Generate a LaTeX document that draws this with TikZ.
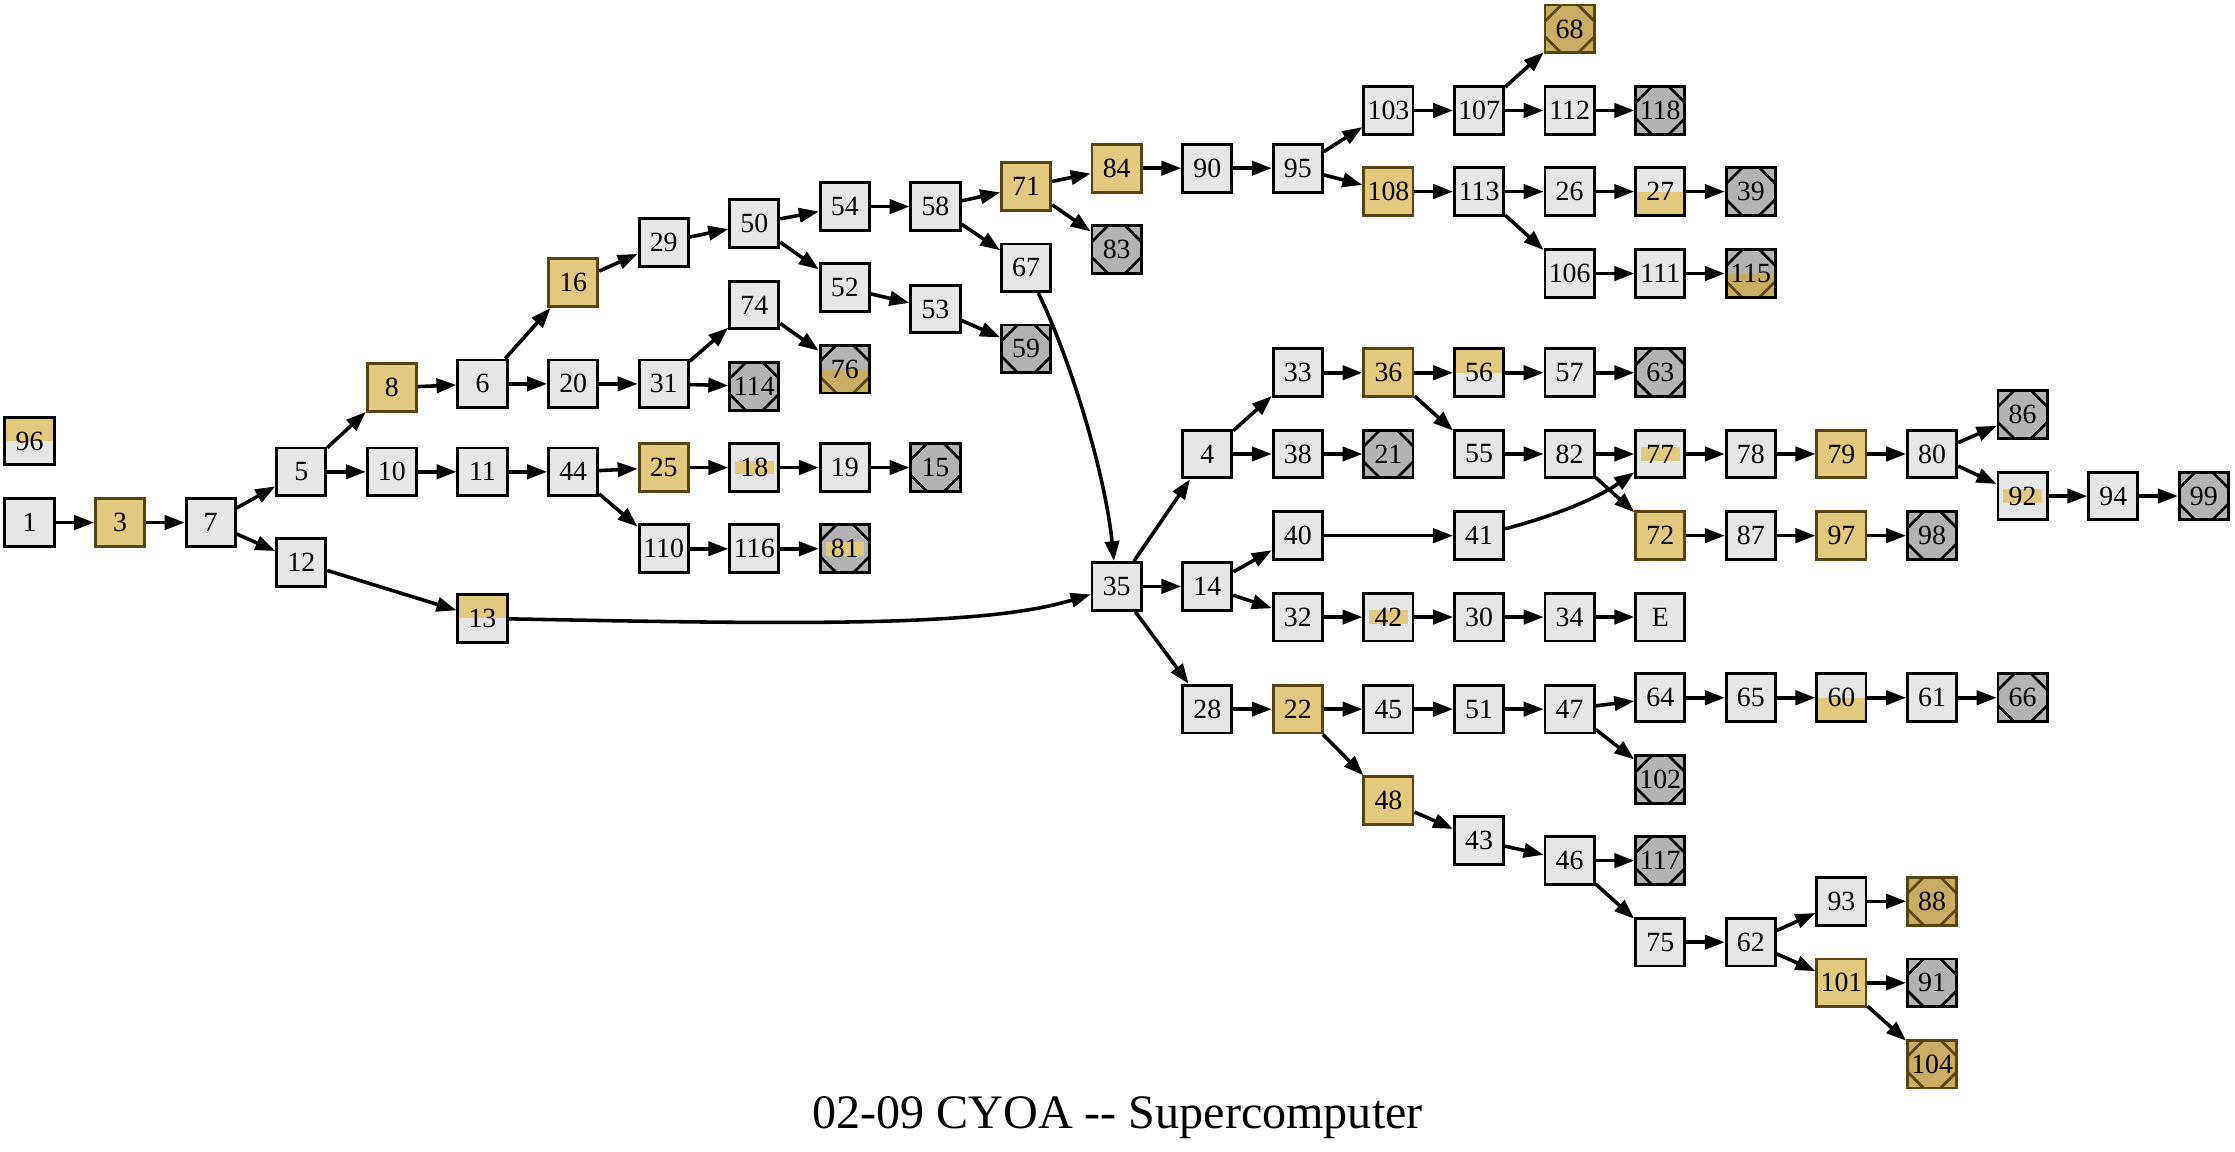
\documentclass[tikz,border=0pt]{standalone}
\usepackage{fontspec}
\setmainfont{Liberation Serif}
\usetikzlibrary{arrows.meta}
\definecolor{boxgray}{RGB}{230,230,230}
\definecolor{goldfill}{RGB}{226,201,126}
\definecolor{goldline}{RGB}{88,68,16}
\definecolor{endgray}{RGB}{179,179,179}
\definecolor{goldend}{RGB}{200,173,98}
\newcommand{\topcuts}[1]{%
\draw[#1,line width=0.75pt] ([yshift=-4.5pt]path picture bounding box.north west) -- ([xshift=4.5pt]path picture bounding box.north west);
\draw[#1,line width=0.75pt] ([yshift=-4.5pt]path picture bounding box.north east) -- ([xshift=-4.5pt]path picture bounding box.north east);}
\newcommand{\botcuts}[1]{%
\draw[#1,line width=0.75pt] ([yshift=4.5pt]path picture bounding box.south west) -- ([xshift=4.5pt]path picture bounding box.south west);
\draw[#1,line width=0.75pt] ([yshift=4.5pt]path picture bounding box.south east) -- ([xshift=-4.5pt]path picture bounding box.south east);}
\newcommand{\goldband}{%
\fill[goldfill] ([shift={(-5.4pt,-1.95pt)}]path picture bounding box.center) rectangle ([shift={(5.4pt,1.95pt)}]path picture bounding box.center);}

\begin{document}
\begin{tikzpicture}[x=0.4pt,y=-0.4pt]
\tikzstyle{pbox}=[rectangle, draw=black, fill=boxgray, line width=0.8pt, minimum width=13.8pt, minimum height=13.4pt, inner sep=0pt, font=\fontsize{7.8}{8}\selectfont]
\tikzstyle{gbox}=[pbox, fill=goldfill, draw=goldline]
\tikzstyle{ebox}=[pbox, fill=endgray, path picture={\topcuts{black}\botcuts{black}}]
\tikzstyle{gebox}=[pbox, fill=goldend, draw=goldline, path picture={\topcuts{goldline}\botcuts{goldline}}]
\tikzstyle{topbox}=[pbox, path picture={\fill[goldfill] (path picture bounding box.north west) rectangle (path picture bounding box.east);}]
\tikzstyle{botbox}=[pbox, path picture={\fill[goldfill] (path picture bounding box.west) rectangle (path picture bounding box.south east);}]
\tikzstyle{bandbox}=[pbox, path picture={\goldband}]
\tikzstyle{ebandbox}=[pbox, fill=endgray, path picture={\goldband\topcuts{black}\botcuts{black}}]
\tikzstyle{ehalfbox}=[pbox, fill=endgray, path picture={\fill[goldend] (path picture bounding box.west) rectangle (path picture bounding box.south east);\topcuts{black}\botcuts{goldline}}]
\tikzstyle{link}=[draw, line width=1pt, -{Triangle[length=5.6pt,width=4pt]}]
\useasboundingbox (0,0) rectangle (1568,808);
\node[topbox] (n96) at (20.7,309.4) {96};
\node[pbox] (n1) at (20.7,366.6) {1};
\node[gbox] (n3) at (84.3,366.6) {3};
\node[pbox] (n7) at (147.8,366.6) {7};
\node[pbox] (n5) at (211.4,331) {5};
\node[pbox] (n12) at (211.4,394.6) {12};
\node[gbox] (n8) at (274.9,272) {8};
\node[pbox] (n10) at (274.9,331) {10};
\node[pbox] (n6) at (338.5,269.3) {6};
\node[pbox] (n11) at (338.5,331) {11};
\node[topbox] (n13) at (338.5,433.8) {13};
\node[gbox] (n16) at (402.1,198.3) {16};
\node[pbox] (n20) at (402.1,269.3) {20};
\node[pbox] (n44) at (402.1,331) {44};
\node[pbox] (n29) at (465.6,170) {29};
\node[pbox] (n31) at (465.6,269.3) {31};
\node[gbox] (n25) at (465.6,328) {25};
\node[pbox] (n110) at (465.6,385) {110};
\node[pbox] (n50) at (529.2,157) {50};
\node[pbox] (n74) at (529.2,214) {74};
\node[ebox] (n114) at (529.2,271) {114};
\node[bandbox] (n18) at (529.2,328) {18};
\node[pbox] (n116) at (529.2,385) {116};
\node[pbox] (n54) at (592.7,144.9) {54};
\node[pbox] (n52) at (592.7,201.9) {52};
\node[ehalfbox] (n76) at (592.7,259) {76};
\node[pbox] (n19) at (592.7,328) {19};
\node[ebandbox] (n81) at (592.7,385) {81};
\node[pbox] (n58) at (656.3,144.9) {58};
\node[pbox] (n53) at (656.3,216.8) {53};
\node[ebox] (n15) at (656.3,328) {15};
\node[gbox] (n71) at (719.9,131) {71};
\node[pbox] (n67) at (719.9,187.9) {67};
\node[ebox] (n59) at (719.9,244.7) {59};
\node[gbox] (n84) at (783.4,118) {84};
\node[ebox] (n83) at (783.4,175) {83};
\node[pbox] (n35) at (783.4,411.4) {35};
\node[pbox] (n90) at (847,118) {90};
\node[pbox] (n4) at (847,318.5) {4};
\node[pbox] (n14) at (847,411.4) {14};
\node[pbox] (n28) at (847,497.5) {28};
\node[pbox] (n95) at (910.5,118) {95};
\node[pbox] (n33) at (910.5,261.5) {33};
\node[pbox] (n38) at (910.5,318.5) {38};
\node[pbox] (n40) at (910.5,375.8) {40};
\node[pbox] (n32) at (910.5,432.9) {32};
\node[gbox] (n22) at (910.5,497.5) {22};
\node[pbox] (n103) at (974.1,77.5) {103};
\node[gbox] (n108) at (974.1,134.4) {108};
\node[gbox] (n36) at (974.1,261.5) {36};
\node[ebox] (n21) at (974.1,318.5) {21};
\node[bandbox] (n42) at (974.1,432.9) {42};
\node[pbox] (n45) at (974.1,497.5) {45};
\node[gbox] (n48) at (974.1,561.7) {48};
\node[pbox] (n107) at (1037.7,77.5) {107};
\node[pbox] (n113) at (1037.7,134.4) {113};
\node[topbox] (n56) at (1037.7,261.5) {56};
\node[pbox] (n55) at (1037.7,318.5) {55};
\node[pbox] (n41) at (1037.7,375.8) {41};
\node[pbox] (n30) at (1037.7,432.9) {30};
\node[pbox] (n51) at (1037.7,497.5) {51};
\node[pbox] (n43) at (1037.7,589.5) {43};
\node[gebox] (n68) at (1101.2,20.3) {68};
\node[pbox] (n112) at (1101.2,77.5) {112};
\node[pbox] (n26) at (1101.2,134.4) {26};
\node[pbox] (n106) at (1101.2,191.9) {106};
\node[pbox] (n57) at (1101.2,261.5) {57};
\node[pbox] (n82) at (1101.2,318.5) {82};
\node[pbox] (n34) at (1101.2,432.9) {34};
\node[pbox] (n47) at (1101.2,497.5) {47};
\node[pbox] (n46) at (1101.2,603.8) {46};
\node[ebox] (n118) at (1164.8,77.5) {118};
\node[botbox] (n27) at (1164.8,134.4) {27};
\node[pbox] (n111) at (1164.8,191.9) {111};
\node[ebox] (n63) at (1164.8,261.5) {63};
\node[bandbox] (n77) at (1164.8,318.5) {77};
\node[gbox] (n72) at (1164.8,375.8) {72};
\node[pbox] (nE) at (1164.8,432.9) {E};
\node[pbox] (n64) at (1164.8,489.5) {64};
\node[ebox] (n102) at (1164.8,547) {102};
\node[ebox] (n117) at (1164.8,603.8) {117};
\node[pbox] (n75) at (1164.8,661) {75};
\node[ebox] (n39) at (1228.3,134.4) {39};
\node[ehalfbox] (n115) at (1228.3,191.9) {115};
\node[pbox] (n78) at (1228.3,318.5) {78};
\node[pbox] (n87) at (1228.3,375.8) {87};
\node[pbox] (n65) at (1228.3,489.5) {65};
\node[pbox] (n62) at (1228.3,661) {62};
\node[gbox] (n79) at (1291.9,318.5) {79};
\node[gbox] (n97) at (1291.9,375.8) {97};
\node[botbox] (n60) at (1291.9,489.5) {60};
\node[pbox] (n93) at (1291.9,632.3) {93};
\node[gbox] (n101) at (1291.9,689.5) {101};
\node[pbox] (n80) at (1355.5,318.5) {80};
\node[ebox] (n98) at (1355.5,375.8) {98};
\node[pbox] (n61) at (1355.5,489.5) {61};
\node[gebox] (n88) at (1355.5,632.3) {88};
\node[ebox] (n91) at (1355.5,689.5) {91};
\node[gebox] (n104) at (1355.5,746.5) {104};
\node[ebox] (n86) at (1419,290.8) {86};
\node[bandbox] (n92) at (1419,348) {92};
\node[ebox] (n66) at (1419,489.5) {66};
\node[pbox] (n94) at (1482.6,348) {94};
\node[ebox] (n99) at (1546.1,348) {99};
\node[anchor=base, font=\fontsize{13.5}{16}\selectfont] (title) at (784,792) {02-09 CYOA -{}- Supercomputer};
\draw[link] (n1) -- (n3);
\draw[link] (n3) -- (n7);
\draw[link] (n7) -- (n5);
\draw[link] (n7) -- (n12);
\draw[link] (n5) -- (n8);
\draw[link] (n5) -- (n10);
\draw[link] (n8) -- (n6);
\draw[link] (n6) -- (n16);
\draw[link] (n6) -- (n20);
\draw[link] (n16) -- (n29);
\draw[link] (n29) -- (n50);
\draw[link] (n50) -- (n54);
\draw[link] (n50) -- (n52);
\draw[link] (n54) -- (n58);
\draw[link] (n58) -- (n71);
\draw[link] (n58) -- (n67);
\draw[link] (n71) -- (n84);
\draw[link] (n71) -- (n83);
\draw[link] (n84) -- (n90);
\draw[link] (n90) -- (n95);
\draw[link] (n95) -- (n103);
\draw[link] (n95) -- (n108);
\draw[link] (n103) -- (n107);
\draw[link] (n107) -- (n68);
\draw[link] (n107) -- (n112);
\draw[link] (n112) -- (n118);
\draw[link] (n108) -- (n113);
\draw[link] (n113) -- (n26);
\draw[link] (n113) -- (n106);
\draw[link] (n26) -- (n27);
\draw[link] (n27) -- (n39);
\draw[link] (n106) -- (n111);
\draw[link] (n111) -- (n115);
\draw[link] (n52) -- (n53);
\draw[link] (n53) -- (n59);
\draw[link] (n67) .. controls (750,250) and (775,330) .. (n35);
\draw[link] (n20) -- (n31);
\draw[link] (n31) -- (n74);
\draw[link] (n31) -- (n114);
\draw[link] (n74) -- (n76);
\draw[link] (n10) -- (n11);
\draw[link] (n11) -- (n44);
\draw[link] (n44) -- (n25);
\draw[link] (n44) -- (n110);
\draw[link] (n25) -- (n18);
\draw[link] (n18) -- (n19);
\draw[link] (n19) -- (n15);
\draw[link] (n110) -- (n116);
\draw[link] (n116) -- (n81);
\draw[link] (n12) -- (n13);
\draw[link] (n13) .. controls (560,438) and (690,440) .. (n35);
\draw[link] (n35) -- (n4);
\draw[link] (n35) -- (n14);
\draw[link] (n35) -- (n28);
\draw[link] (n4) -- (n33);
\draw[link] (n4) -- (n38);
\draw[link] (n33) -- (n36);
\draw[link] (n36) -- (n56);
\draw[link] (n36) -- (n55);
\draw[link] (n56) -- (n57);
\draw[link] (n57) -- (n63);
\draw[link] (n38) -- (n21);
\draw[link] (n55) -- (n82);
\draw[link] (n82) -- (n77);
\draw[link] (n82) -- (n72);
\draw[link] (n77) -- (n78);
\draw[link] (n78) -- (n79);
\draw[link] (n79) -- (n80);
\draw[link] (n80) -- (n86);
\draw[link] (n80) -- (n92);
\draw[link] (n92) -- (n94);
\draw[link] (n94) -- (n99);
\draw[link] (n72) -- (n87);
\draw[link] (n87) -- (n97);
\draw[link] (n97) -- (n98);
\draw[link] (n14) -- (n40);
\draw[link] (n14) -- (n32);
\draw[link] (n40) -- (n41);
\draw[link] (n41) .. controls (1090,362) and (1120,350) .. (n77);
\draw[link] (n32) -- (n42);
\draw[link] (n42) -- (n30);
\draw[link] (n30) -- (n34);
\draw[link] (n34) -- (nE);
\draw[link] (n28) -- (n22);
\draw[link] (n22) -- (n45);
\draw[link] (n22) -- (n48);
\draw[link] (n45) -- (n51);
\draw[link] (n51) -- (n47);
\draw[link] (n47) -- (n64);
\draw[link] (n47) -- (n102);
\draw[link] (n64) -- (n65);
\draw[link] (n65) -- (n60);
\draw[link] (n60) -- (n61);
\draw[link] (n61) -- (n66);
\draw[link] (n48) -- (n43);
\draw[link] (n43) -- (n46);
\draw[link] (n46) -- (n117);
\draw[link] (n46) -- (n75);
\draw[link] (n75) -- (n62);
\draw[link] (n62) -- (n93);
\draw[link] (n62) -- (n101);
\draw[link] (n93) -- (n88);
\draw[link] (n101) -- (n91);
\draw[link] (n101) -- (n104);
\end{tikzpicture}
\end{document}
